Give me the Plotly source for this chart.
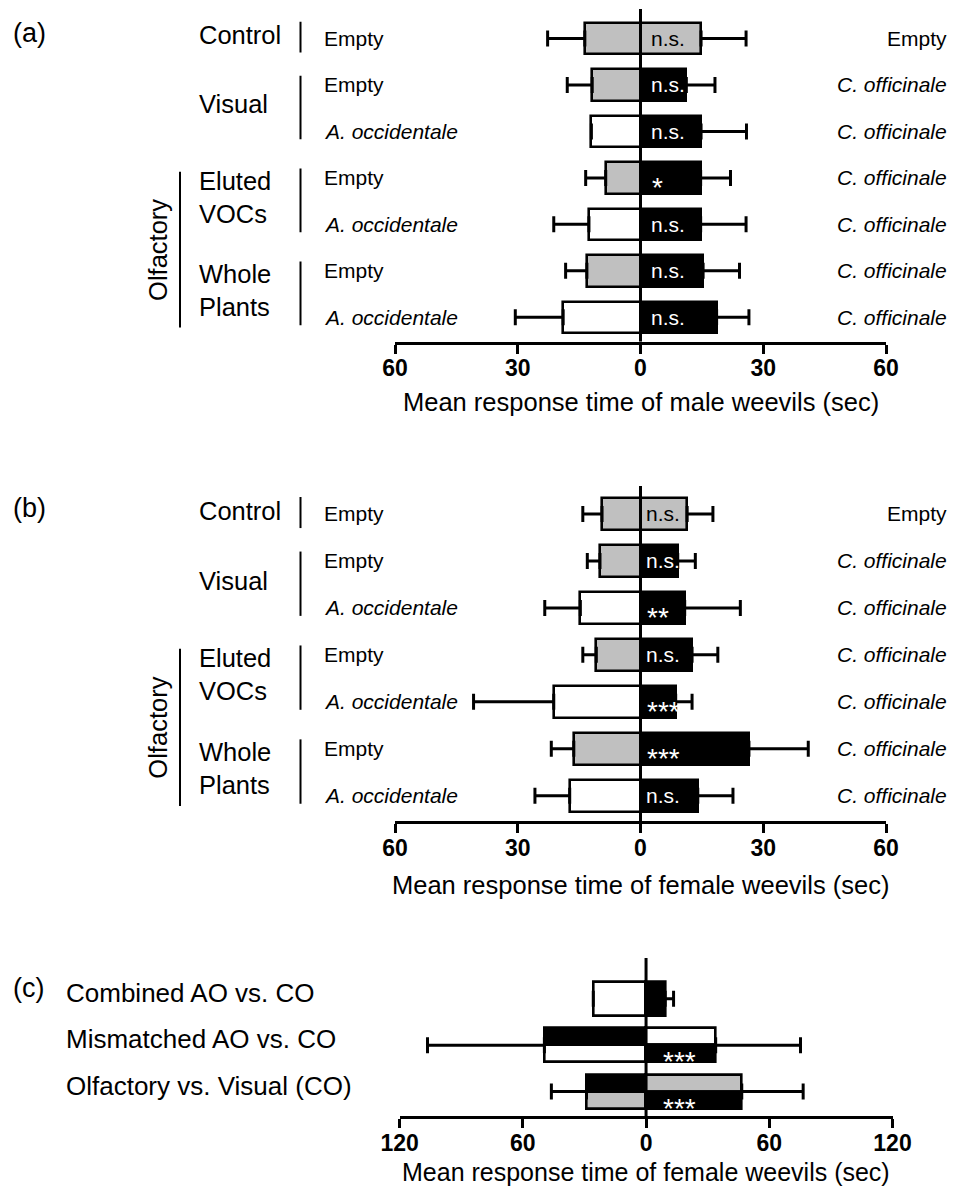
import plotly.graph_objects as go

FONT = "Liberation Sans, Arial, sans-serif"
GRAY = "#c0c0c0"
W, H = 960, 1187

# ---------------- data ----------------
row_left_labels = ["Empty", "Empty", "A. occidentale", "Empty", "A. occidentale", "Empty", "A. occidentale"]
row_right_labels = ["Empty", "C. officinale", "C. officinale", "C. officinale",
                    "C. officinale", "C. officinale", "C. officinale"]
group_names = ["Control", "Visual", "Eluted<br>VOCs", "Whole<br>Plants"]
group_rows = [(0, 0), (1, 2), (3, 4), (5, 6)]
super_group_name = "Olfactory"
super_group_rows = (3, 6)

male_left = [-13.6, -11.8, -12.0, -8.5, -12.6, -13.1, -18.9]
male_left_err = [9.1, 6.1, 0.0, 4.9, 8.6, 5.2, 11.7]
male_right = [14.8, 11.2, 14.8, 14.7, 14.7, 15.3, 18.6]
male_right_err = [11.0, 7.0, 11.1, 7.3, 11.1, 8.9, 7.9]
male_sig = ["n.s.", "n.s.", "n.s.", "*", "n.s.", "n.s.", "n.s."]

female_left = [-9.4, -9.9, -14.7, -10.8, -21.2, -16.3, -17.3]
female_left_err = [4.7, 3.1, 8.7, 3.3, 19.6, 5.5, 8.5]
female_right = [11.4, 9.1, 10.8, 12.6, 8.6, 26.5, 14.0]
female_right_err = [6.3, 4.3, 13.6, 6.3, 4.0, 14.5, 8.6]
female_sig = ["n.s.", "n.s.", "**", "n.s.", "***", "***", "n.s."]

ab_ticks = [-60, -30, 0, 30, 60]
ab_ticktext = ["60", "30", "0", "30", "60"]

c_categories = ["Combined AO vs. CO", "Mismatched AO vs. CO", "Olfactory vs. Visual (CO)"]
c_left = [-25.7, -49.5, -29.0]
c_left_err = [0.0, 56.9, 17.1]
c_right = [9.3, 33.9, 46.6]
c_right_err = [4.1, 41.3, 29.9]
c_sig = ["", "***", "***"]
c_split = [False, True, True]
c_left_top = ["white", "black", "black"]
c_left_bottom = ["white", "white", GRAY]
c_right_top = ["black", "white", GRAY]
c_right_bottom = ["black", "black", "black"]
c_ticks = [-120, -60, 0, 60, 120]
c_ticktext = ["120", "60", "0", "60", "120"]

# ---------------- layout geometry ----------------
AB_DOMAIN_X = [395 / W, 886 / W]
C_DOMAIN_X = [399.6 / W, 892.5 / W]
PANELS = {
    "a": dict(ydom=[1 - 341.7 / H, 1 - 9 / H], yrange=[6.525, -0.635]),
    "b": dict(ydom=[1 - 821.4 / H, 1 - 486 / H], yrange=[6.547, -0.596]),
    "c": dict(ydom=[1 - 1116 / H, 1 - 957.9 / H], yrange=[2.526, -0.881]),
}
BAR_W = 0.68
C_BAR_W = 0.733
LINE_W = 2.6

fig = go.Figure()
shapes = []
annotations = []


def left_color(lbl):
    return GRAY if lbl == "Empty" else "white"


def right_color(lbl):
    return GRAY if lbl == "Empty" else "black"


def err_trace(x, y, plus, minus, xa, ya):
    return go.Scatter(
        x=x, y=y, mode="markers", xaxis=xa, yaxis=ya, showlegend=False, hoverinfo="skip",
        marker=dict(size=1, color="rgba(0,0,0,0)"),
        error_x=dict(type="data", symmetric=False, array=plus, arrayminus=minus,
                     color="black", thickness=3, width=8),
    )


def ab_panel(key, xa, ya, left, left_err, right, right_err, sig, title, tag, sig_shift, title_shift):
    n = len(left)
    ys = list(range(n))
    fig.add_trace(go.Bar(x=left, y=ys, orientation="h", width=BAR_W, xaxis=xa, yaxis=ya,
                         marker=dict(color=[left_color(l) for l in row_left_labels],
                                     line=dict(color="black", width=LINE_W)),
                         showlegend=False, hoverinfo="skip"))
    fig.add_trace(go.Bar(x=right, y=ys, orientation="h", width=BAR_W, xaxis=xa, yaxis=ya,
                         marker=dict(color=[right_color(l) for l in row_right_labels],
                                     line=dict(color="black", width=LINE_W)),
                         showlegend=False, hoverinfo="skip"))
    fig.add_trace(err_trace(left, ys, [0] * n, left_err, xa, ya))
    fig.add_trace(err_trace(right, ys, right_err, [0] * n, xa, ya))

    yr = PANELS[key]["yrange"]
    yref = ya
    xref = xa
    shapes.append(dict(type="line", xref=xref, yref=yref, x0=0, x1=0, y0=yr[1], y1=yr[0],
                       line=dict(color="black", width=3), layer="above"))
    # significance labels
    for i, s in enumerate(sig):
        star = "*" in s
        annotations.append(dict(
            x=0, y=i, xref=xref, yref=yref, text=s, showarrow=False, xanchor="left",
            yanchor="middle", xshift=sig_shift + (1 if star else 0), yshift=-10 if star else 0,
            font=dict(family=FONT, size=28 if star else 21,
                      color="black" if row_right_labels[i] == "Empty" else "white")))
    # row labels
    for i in range(n):
        lt = row_left_labels[i]
        rt = row_right_labels[i]
        annotations.append(dict(
            x=322 / W, y=i, xref="paper", yref=yref, showarrow=False, xanchor="left",
            yanchor="middle", text=(f"<i>{lt}</i>" if lt != "Empty" else lt),
            font=dict(family=FONT, size=21, color="black")))
        annotations.append(dict(
            x=949 / W, y=i, xref="paper", yref=yref, showarrow=False, xanchor="right",
            yanchor="middle", text=(f"<i>{rt}</i>" if rt != "Empty" else rt),
            font=dict(family=FONT, size=21, color="black")))
    # group labels and brackets
    for name, (r0, r1) in zip(group_names, group_rows):
        if r0 == r1:
            y0, y1, ylab = r0 - 0.36, r0 + 0.3, r0 - 0.07
        else:
            y0, y1, ylab = r0 - 0.2, r1 + 0.17, (r0 + r1) / 2 - 0.08
        shapes.append(dict(type="line", xref="paper", yref=yref, x0=300.5 / W, x1=300.5 / W,
                           y0=y0, y1=y1, line=dict(color="black", width=2)))
        annotations.append(dict(
            x=197 / W, y=ylab, xref="paper", yref=yref, showarrow=False, xanchor="left",
            yanchor="middle", text=name, align="left",
            font=dict(family=FONT, size=25.5, color="black")))
    s0, s1 = super_group_rows
    shapes.append(dict(type="line", xref="paper", yref=yref, x0=180 / W, x1=180 / W,
                       y0=s0 - 0.13, y1=s1 + 0.22, line=dict(color="black", width=2)))
    annotations.append(dict(
        x=158 / W, y=(s0 + s1) / 2 + 0.05, xref="paper", yref=yref, showarrow=False,
        xanchor="center", yanchor="middle", text=super_group_name, textangle=-90,
        font=dict(family=FONT, size=25.5, color="black")))
    # panel tag
    annotations.append(dict(
        x=11 / W, y=-0.12, xref="paper", yref=yref, showarrow=False, xanchor="left",
        yanchor="middle", text=tag, font=dict(family=FONT, size=27, color="black")))
    # axis title
    annotations.append(dict(
        x=0.5, y=0, xref=f"{xref} domain", yref=f"{yref} domain", yshift=title_shift,
        showarrow=False, xanchor="center", yanchor="middle", text=title,
        font=dict(family=FONT, size=25.5, color="black")))


ab_panel("a", "x", "y", male_left, male_left_err, male_right, male_right_err, male_sig,
         "Mean response time of male weevils (sec)", "(a)", 8, -60)
ab_panel("b", "x2", "y2", female_left, female_left_err, female_right, female_right_err, female_sig,
         "Mean response time of female weevils (sec)", "(b)", 3, -64)

# ---------------- panel c ----------------
nc = len(c_categories)
half = C_BAR_W / 2
for i in range(nc):
    if c_split[i]:
        parts = [(i - half / 2, half, c_left_top[i], c_right_top[i]),
                 (i + half / 2, half, c_left_bottom[i], c_right_bottom[i])]
    else:
        parts = [(i, C_BAR_W, c_left_top[i], c_right_top[i])]
    for (yy, ww, lc, rc) in parts:
        fig.add_trace(go.Bar(x=[c_left[i]], y=[yy], orientation="h", width=ww, xaxis="x3", yaxis="y3",
                             marker=dict(color=lc, line=dict(color="black", width=LINE_W)),
                             showlegend=False, hoverinfo="skip"))
        fig.add_trace(go.Bar(x=[c_right[i]], y=[yy], orientation="h", width=ww, xaxis="x3", yaxis="y3",
                             marker=dict(color=rc, line=dict(color="black", width=LINE_W)),
                             showlegend=False, hoverinfo="skip"))
cys = list(range(nc))
fig.add_trace(err_trace(c_left, cys, [0] * nc, c_left_err, "x3", "y3"))
fig.add_trace(err_trace(c_right, cys, c_right_err, [0] * nc, "x3", "y3"))
cyr = PANELS["c"]["yrange"]
shapes.append(dict(type="line", xref="x3", yref="y3", x0=0, x1=0, y0=cyr[1], y1=cyr[0],
                   line=dict(color="black", width=3), layer="above"))
for i, s in enumerate(c_sig):
    if s:
        annotations.append(dict(
            x=0, y=i + half / 2, xref="x3", yref="y3", text=s, showarrow=False, xanchor="left",
            yanchor="middle", xshift=15, yshift=-8,
            font=dict(family=FONT, size=28, color="white")))
for i, lbl in enumerate(c_categories):
    annotations.append(dict(
        x=64 / W, y=i, xref="paper", yref="y3", showarrow=False, xanchor="left",
        yanchor="middle", yshift=6, text=lbl, font=dict(family=FONT, size=26, color="black")))
annotations.append(dict(
    x=11 / W, y=-0.23, xref="paper", yref="y3", showarrow=False, xanchor="left",
    yanchor="middle", text="(c)", font=dict(family=FONT, size=27, color="black")))
annotations.append(dict(
    x=0.5, y=0, xref="x3 domain", yref="y3 domain", yshift=-56,
    showarrow=False, xanchor="center", yanchor="middle",
    text="Mean response time of female weevils (sec)",
    font=dict(family=FONT, size=25, color="black")))


def xaxis_cfg(dom, rng, tv, tt, anchor):
    return dict(domain=dom, range=rng, tickvals=tv, ticktext=tt, ticks="outside", ticklen=9,
                tickwidth=3, tickcolor="black", showline=True, linewidth=3, linecolor="black",
                showgrid=False, zeroline=False, anchor=anchor, fixedrange=True, automargin=False,
                ticklabelstandoff=-5,
                tickfont=dict(family=FONT, size=23, color="black", weight="bold"))


def yaxis_cfg(key, anchor):
    return dict(domain=PANELS[key]["ydom"], range=PANELS[key]["yrange"], visible=False,
                anchor=anchor, fixedrange=True, automargin=False)


fig.update_layout(
    width=W, height=H, margin=dict(l=0, r=0, t=0, b=0, pad=0, autoexpand=False),
    paper_bgcolor="white", plot_bgcolor="white",
    barmode="overlay", bargap=0, showlegend=False,
    xaxis=xaxis_cfg(AB_DOMAIN_X, [-60, 60], ab_ticks, ab_ticktext, "y"),
    xaxis2=xaxis_cfg(AB_DOMAIN_X, [-60, 60], ab_ticks, ab_ticktext, "y2"),
    xaxis3=xaxis_cfg(C_DOMAIN_X, [-120, 120], c_ticks, c_ticktext, "y3"),
    yaxis=yaxis_cfg("a", "x"),
    yaxis2=yaxis_cfg("b", "x2"),
    yaxis3=yaxis_cfg("c", "x3"),
    shapes=shapes, annotations=annotations,
    font=dict(family=FONT, color="black"),
)

fig.write_html("out.html")
